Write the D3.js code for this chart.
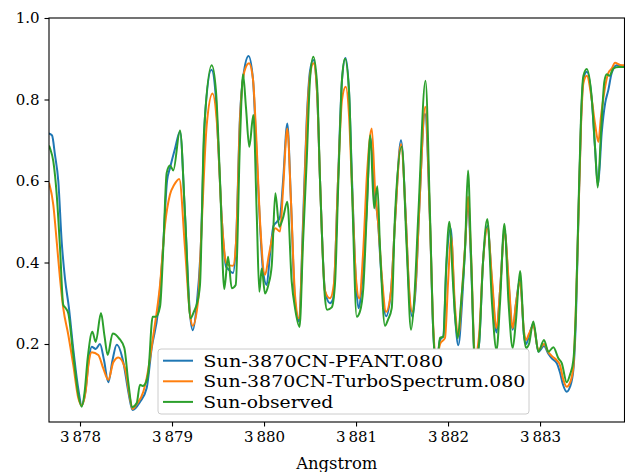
<!DOCTYPE html>
<html>
<head>
<meta charset="utf-8">
<script src="https://cdn.jsdelivr.net/npm/d3@7"></script>
<style>
  body { margin: 0; background: #fff; }
  svg { display: block; font-family: "DejaVu Serif", serif; }
</style>
</head>
<body>
<script>
const width = 625, height = 472;
const margin = {left: 49, top: 18, right: 0.5, bottom: 50};

// [wavelength (Angstrom), normalised flux]
const pfant = [
  [3877.663,0.717],[3877.696,0.712],[3877.728,0.664],[3877.764,0.600],[3877.801,0.451],[3877.837,0.360],
  [3877.880,0.288],[3877.927,0.187],[3877.982,0.089],[3878.018,0.050],[3878.062,0.089],[3878.098,0.166],
  [3878.127,0.193],[3878.171,0.188],[3878.217,0.200],[3878.261,0.160],[3878.308,0.106],[3878.353,0.160],
  [3878.399,0.198],[3878.471,0.155],[3878.525,0.083],[3878.571,0.038],[3878.652,0.058],[3878.725,0.092],
  [3878.779,0.190],[3878.848,0.280],[3878.902,0.435],[3878.946,0.600],[3878.978,0.632],[3879.033,0.680],
  [3879.087,0.721],[3879.141,0.517],[3879.196,0.272],[3879.225,0.234],[3879.268,0.295],[3879.312,0.435],
  [3879.359,0.760],[3879.429,0.873],[3879.478,0.800],[3879.500,0.700],[3879.543,0.500],[3879.587,0.390],
  [3879.609,0.384],[3879.663,0.374],[3879.696,0.450],[3879.739,0.760],[3879.783,0.870],[3879.832,0.907],
  [3879.880,0.850],[3879.913,0.700],[3879.957,0.490],[3879.989,0.380],[3880.029,0.345],[3880.065,0.420],
  [3880.103,0.490],[3880.141,0.500],[3880.174,0.512],[3880.207,0.600],[3880.253,0.741],[3880.293,0.550],
  [3880.337,0.304],[3880.380,0.255],[3880.424,0.500],[3880.464,0.750],[3880.500,0.870],[3880.536,0.897],
  [3880.576,0.820],[3880.609,0.600],[3880.663,0.330],[3880.717,0.300],[3880.750,0.310],[3880.804,0.600],
  [3880.848,0.850],[3880.886,0.902],[3880.924,0.820],[3880.957,0.600],[3881.000,0.350],[3881.027,0.288],
  [3881.065,0.350],[3881.109,0.500],[3881.160,0.705],[3881.196,0.580],[3881.239,0.500],[3881.272,0.380],
  [3881.326,0.268],[3881.380,0.330],[3881.424,0.500],[3881.489,0.700],[3881.543,0.500],[3881.576,0.330],
  [3881.612,0.267],[3881.652,0.350],[3881.685,0.520],[3881.750,0.765],[3881.804,0.500],[3881.840,0.228],
  [3881.875,0.150],[3881.913,0.210],[3881.949,0.220],[3881.984,0.400],[3882.029,0.484],[3882.076,0.270],
  [3882.112,0.197],[3882.152,0.300],[3882.185,0.435],[3882.217,0.550],[3882.250,0.400],[3882.293,0.165],
  [3882.337,0.200],[3882.380,0.400],[3882.429,0.490],[3882.478,0.350],[3882.527,0.228],[3882.565,0.330],
  [3882.614,0.480],[3882.658,0.350],[3882.703,0.235],[3882.739,0.300],[3882.783,0.360],[3882.826,0.220],
  [3882.848,0.200],[3882.880,0.220],[3882.927,0.250],[3882.982,0.181],[3883.043,0.195],[3883.090,0.176],
  [3883.130,0.164],[3883.182,0.153],[3883.217,0.130],[3883.250,0.100],[3883.290,0.083],[3883.326,0.095],
  [3883.362,0.136],[3883.391,0.270],[3883.416,0.500],[3883.446,0.750],[3883.471,0.850],[3883.508,0.868],
  [3883.562,0.800],[3883.598,0.680],[3883.630,0.590],[3883.671,0.720],[3883.707,0.790],[3883.742,0.823],
  [3883.779,0.865],[3883.834,0.884],[3883.870,0.882],[3883.924,0.882]
];

const turbo = [
  [3877.663,0.596],[3877.710,0.541],[3877.747,0.451],[3877.783,0.360],[3877.818,0.288],[3877.873,0.222],
  [3877.927,0.148],[3877.982,0.067],[3878.018,0.050],[3878.062,0.085],[3878.092,0.150],[3878.127,0.180],
  [3878.199,0.173],[3878.253,0.140],[3878.308,0.112],[3878.362,0.155],[3878.418,0.167],[3878.489,0.140],
  [3878.543,0.067],[3878.573,0.040],[3878.609,0.050],[3878.688,0.083],[3878.725,0.117],[3878.797,0.222],
  [3878.870,0.346],[3878.924,0.493],[3878.978,0.567],[3879.022,0.590],[3879.079,0.605],[3879.141,0.435],
  [3879.196,0.272],[3879.225,0.245],[3879.286,0.312],[3879.323,0.493],[3879.377,0.737],[3879.440,0.815],
  [3879.489,0.740],[3879.543,0.500],[3879.587,0.400],[3879.620,0.393],[3879.663,0.392],[3879.696,0.450],
  [3879.739,0.750],[3879.788,0.870],[3879.837,0.889],[3879.880,0.850],[3879.913,0.720],[3879.957,0.500],
  [3880.011,0.370],[3880.054,0.420],[3880.123,0.484],[3880.174,0.476],[3880.207,0.580],[3880.253,0.729],
  [3880.293,0.550],[3880.337,0.320],[3880.380,0.263],[3880.424,0.480],[3880.467,0.750],[3880.500,0.860],
  [3880.538,0.889],[3880.576,0.820],[3880.609,0.600],[3880.663,0.330],[3880.717,0.312],[3880.761,0.350],
  [3880.804,0.600],[3880.848,0.800],[3880.888,0.831],[3880.924,0.760],[3880.957,0.580],[3881.000,0.360],
  [3881.036,0.312],[3881.076,0.420],[3881.120,0.620],[3881.171,0.729],[3881.207,0.578],[3881.242,0.493],
  [3881.283,0.360],[3881.326,0.279],[3881.380,0.330],[3881.424,0.500],[3881.489,0.690],[3881.543,0.500],
  [3881.576,0.340],[3881.612,0.279],[3881.652,0.360],[3881.685,0.520],[3881.753,0.782],[3881.804,0.500],
  [3881.840,0.240],[3881.875,0.160],[3881.913,0.200],[3881.967,0.215],[3882.000,0.350],[3882.033,0.465],
  [3882.076,0.290],[3882.112,0.220],[3882.152,0.330],[3882.185,0.440],[3882.217,0.562],[3882.250,0.420],
  [3882.293,0.170],[3882.337,0.220],[3882.380,0.400],[3882.429,0.484],[3882.478,0.360],[3882.527,0.239],
  [3882.565,0.330],[3882.614,0.476],[3882.658,0.360],[3882.703,0.239],[3882.739,0.300],[3882.783,0.353],
  [3882.826,0.230],[3882.848,0.210],[3882.880,0.225],[3882.927,0.245],[3882.982,0.185],[3883.043,0.200],
  [3883.090,0.180],[3883.130,0.170],[3883.182,0.160],[3883.217,0.148],[3883.250,0.115],[3883.290,0.095],
  [3883.326,0.105],[3883.362,0.144],[3883.391,0.300],[3883.416,0.500],[3883.446,0.740],[3883.471,0.840],
  [3883.508,0.858],[3883.562,0.800],[3883.598,0.740],[3883.634,0.696],[3883.663,0.760],[3883.688,0.803],
  [3883.742,0.865],[3883.779,0.876],[3883.815,0.890],[3883.870,0.885],[3883.924,0.884]
];

const observed = [
  [3877.663,0.687],[3877.674,0.680],[3877.710,0.648],[3877.747,0.566],[3877.783,0.435],[3877.818,0.296],
  [3877.845,0.288],[3877.873,0.275],[3877.927,0.173],[3877.982,0.075],[3878.018,0.046],[3878.049,0.080],
  [3878.084,0.166],[3878.134,0.230],[3878.171,0.205],[3878.228,0.276],[3878.266,0.220],[3878.301,0.173],
  [3878.355,0.226],[3878.424,0.214],[3878.482,0.190],[3878.525,0.106],[3878.568,0.045],[3878.616,0.055],
  [3878.652,0.100],[3878.682,0.097],[3878.717,0.106],[3878.742,0.130],[3878.790,0.267],[3878.826,0.267],
  [3878.870,0.292],[3878.905,0.435],[3878.942,0.620],[3878.978,0.638],[3879.014,0.626],[3879.087,0.724],
  [3879.141,0.520],[3879.201,0.263],[3879.239,0.280],[3879.272,0.300],[3879.304,0.345],[3879.348,0.721],
  [3879.432,0.884],[3879.478,0.820],[3879.522,0.600],[3879.568,0.335],[3879.609,0.414],[3879.649,0.337],
  [3879.692,0.345],[3879.739,0.700],[3879.772,0.862],[3879.804,0.780],[3879.840,0.684],[3879.884,0.762],
  [3879.921,0.517],[3879.949,0.328],[3879.975,0.385],[3880.011,0.324],[3880.047,0.345],[3880.084,0.393],
  [3880.123,0.570],[3880.166,0.488],[3880.207,0.510],[3880.253,0.549],[3880.301,0.353],[3880.337,0.288],
  [3880.386,0.242],[3880.424,0.450],[3880.464,0.650],[3880.500,0.850],[3880.536,0.905],[3880.576,0.840],
  [3880.609,0.600],[3880.663,0.312],[3880.685,0.284],[3880.736,0.290],[3880.772,0.350],[3880.808,0.600],
  [3880.848,0.850],[3880.880,0.900],[3880.924,0.820],[3880.957,0.580],[3881.008,0.267],[3881.043,0.280],
  [3881.079,0.337],[3881.116,0.517],[3881.155,0.712],[3881.196,0.533],[3881.232,0.587],[3881.261,0.435],
  [3881.315,0.245],[3881.348,0.260],[3881.388,0.288],[3881.424,0.517],[3881.497,0.684],[3881.551,0.435],
  [3881.598,0.235],[3881.630,0.300],[3881.677,0.517],[3881.755,0.846],[3881.804,0.517],[3881.840,0.228],
  [3881.875,0.140],[3881.913,0.215],[3881.949,0.218],[3881.978,0.380],[3882.014,0.500],[3882.054,0.350],
  [3882.076,0.270],[3882.105,0.214],[3882.141,0.300],[3882.185,0.435],[3882.217,0.626],[3882.250,0.420],
  [3882.293,0.150],[3882.337,0.200],[3882.380,0.400],[3882.427,0.507],[3882.478,0.300],[3882.527,0.185],
  [3882.565,0.300],[3882.612,0.495],[3882.658,0.300],[3882.703,0.190],[3882.739,0.260],[3882.783,0.379],
  [3882.826,0.220],[3882.848,0.190],[3882.880,0.200],[3882.927,0.255],[3882.982,0.181],[3883.043,0.210],
  [3883.090,0.181],[3883.145,0.192],[3883.199,0.165],[3883.236,0.153],[3883.290,0.106],[3883.326,0.125],
  [3883.362,0.160],[3883.388,0.270],[3883.416,0.517],[3883.446,0.762],[3883.471,0.858],[3883.508,0.875],
  [3883.562,0.803],[3883.598,0.682],[3883.627,0.584],[3883.663,0.721],[3883.699,0.844],[3883.725,0.862],
  [3883.753,0.858],[3883.797,0.876],[3883.851,0.880],[3883.924,0.880]
];

const seriesNames = ["Sun-3870CN-PFANT.080", "Sun-3870CN-TurboSpectrum.080", "Sun-observed"];
const seriesColors = ["#1f77b4", "#ff7f0e", "#2ca02c"];
const xTicks = [3878, 3879, 3880, 3881, 3882, 3883];
const yTicks = [0.2, 0.4, 0.6, 0.8, 1.0];
const xDomain = [3877.663, 3883.918];
const yDomain = [0.0086, 1.0];

const svg = d3.select("body").append("svg")
    .attr("width", width)
    .attr("height", height);

const x = d3.scaleLinear().domain(xDomain).range([margin.left, width - margin.right]);
const y = d3.scaleLinear().domain(yDomain).range([height - margin.bottom, margin.top]);

const thin = d3.formatLocale({decimal: ".", thousands: "\u2009", grouping: [3], currency: ["", ""]});

svg.append("defs").append("clipPath").attr("id", "plot")
  .append("rect")
    .attr("x", margin.left).attr("y", margin.top)
    .attr("width", width - margin.right - margin.left)
    .attr("height", height - margin.bottom - margin.top);

const line = d3.line()
    .x(d => x(d[0]))
    .y(d => y(d[1]))
    .curve(d3.curveMonotoneX);

const g = svg.append("g").attr("clip-path", "url(#plot)");
[pfant, turbo, observed].forEach((s, i) => {
  g.append("path")
    .datum(s)
    .attr("fill", "none")
    .attr("stroke", seriesColors[i])
    .attr("stroke-width", 2)
    .attr("stroke-linejoin", "round")
    .attr("d", line);
});

// axes
const xAxis = svg.append("g")
    .attr("transform", `translate(0,${height - margin.bottom})`)
    .call(d3.axisBottom(x).tickValues(xTicks).tickFormat(thin.format(",d")).tickSizeOuter(0).tickSize(4.5).tickPadding(5));
const yAxis = svg.append("g")
    .attr("transform", `translate(${margin.left},0)`)
    .call(d3.axisLeft(y).tickValues(yTicks).tickFormat(d3.format(".1f")).tickSizeOuter(0).tickSize(4.5).tickPadding(5));

[xAxis, yAxis].forEach(a => {
  a.select(".domain").remove();
  a.selectAll("line").attr("stroke", "#000").attr("stroke-width", 1.1);
  a.selectAll("text").attr("fill", "#000").style("font-family", "DejaVu Serif").style("font-size", "15px");
});

// spines
const x0 = margin.left, x1 = width - margin.right, y0 = margin.top, y1 = height - margin.bottom;
svg.append("rect")
    .attr("x", x0).attr("y", y0)
    .attr("width", x1 - x0).attr("height", y1 - y0)
    .attr("fill", "none").attr("stroke", "#000").attr("stroke-width", 1.1);

svg.append("text")
    .attr("x", (x0 + x1) / 2)
    .attr("y", 469)
    .attr("text-anchor", "middle")
    .style("font-size", "16.4px")
    .text("Angstrom");

// legend (wide lettering: stretch each label to the width seen in the picture)
const legendWidths = [240, 322, 130];
const leg = svg.append("g").attr("transform", "translate(158,349)");
leg.append("rect")
    .attr("width", 371).attr("height", 65)
    .attr("rx", 3).attr("ry", 3)
    .attr("fill", "#fff")
    .attr("stroke", "#ccc").attr("stroke-width", 1);
seriesNames.forEach((name, i) => {
  const cy = 11.7 + i * 20.6;
  leg.append("line")
    .attr("x1", 5).attr("x2", 35).attr("y1", cy).attr("y2", cy)
    .attr("stroke", seriesColors[i]).attr("stroke-width", 2);
  leg.append("text")
    .attr("x", 45.3).attr("y", cy)
    .attr("dy", "0.36em")
    .attr("textLength", legendWidths[i])
    .attr("lengthAdjust", "spacingAndGlyphs")
    .style("font-size", "17.2px")
    .text(name);
});
</script>
</body>
</html>
